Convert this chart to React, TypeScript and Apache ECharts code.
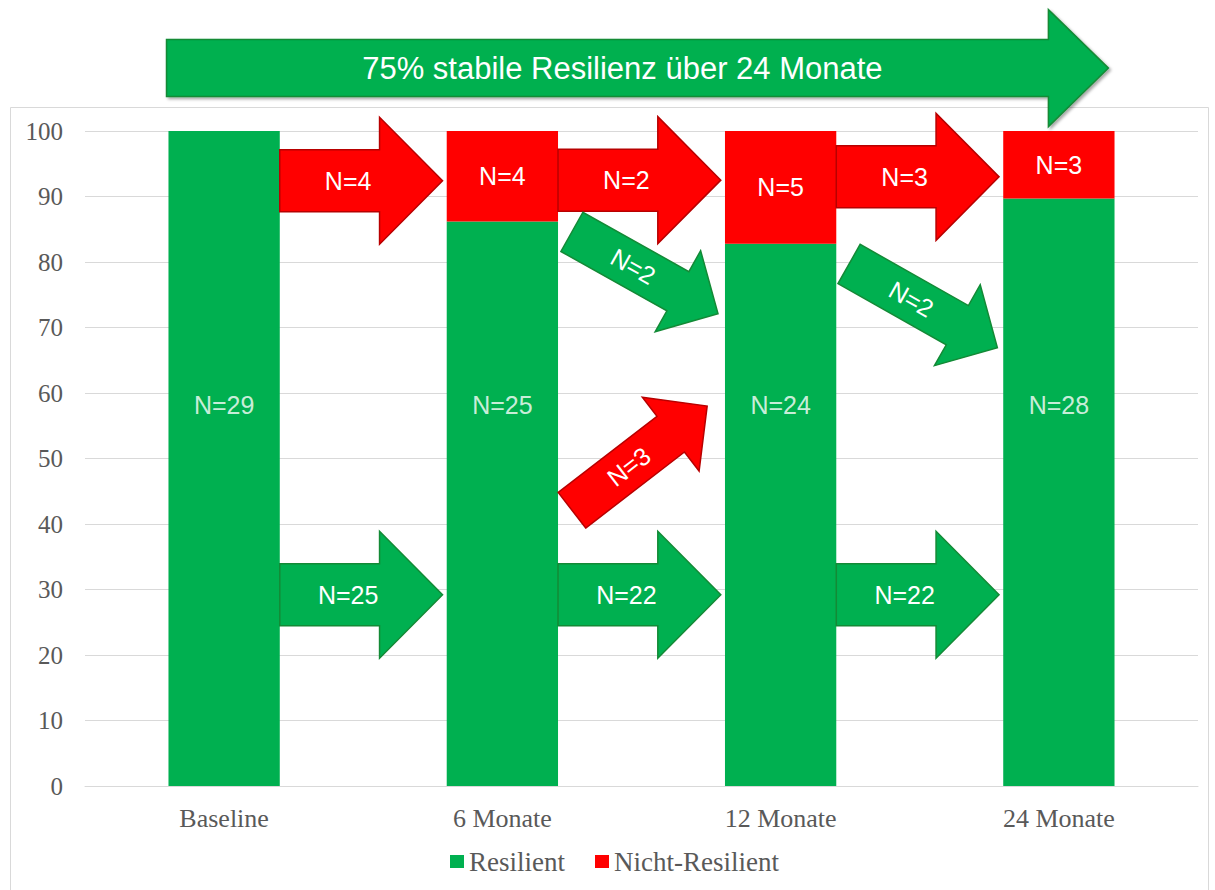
import React, { useEffect, useRef } from "react";
import * as echarts from "echarts";

const categories = ["Baseline", "6 Monate", "12 Monate", "24 Monate"];
const resilient = [100, 86.2, 82.8, 89.7];
const nichtResilient = [0, 13.8, 17.2, 10.3];
const resilientN = ["N=29", "N=25", "N=24", "N=28"];
const nichtN = ["", "N=4", "N=5", "N=3"];
const resilientLabelLevel = [58.2, 58.2, 58.2, 58.2];
const yTicks = { min: 0, max: 100, interval: 10 };

// transition arrows: category position (index fraction) and value
const flowLabels = ["N=4", "N=2", "N=3", "N=25", "N=22", "N=22", "N=2", "N=2", "N=3"];
const flowKinds = ["red", "red", "red", "green", "green", "green", "green", "green", "red"];
const flowFrom = [
  [0.2, 92.4], [1.2, 92.5], [2.2, 93.0],
  [0.2, 29.2], [1.2, 29.2], [2.2, 29.2],
  [1.25, 84.6], [2.246, 79.7], [1.25, 42.1],
];
const flowTo = [
  [0.785, 92.4], [1.785, 92.5], [2.785, 93.0],
  [0.785, 29.2], [1.785, 29.2], [2.785, 29.2],
  [1.775, 72.1], [2.779, 66.9], [1.736, 58.0],
];
const summaryText = "75% stabile Resilienz über 24 Monate";
const summaryFrom = [-0.207, 109.6];
const summaryTo = [3.178, 109.6];

const GREEN = "#00B050";
const RED = "#FF0000";
const SANS = '"Liberation Sans", Arial, sans-serif';
const SERIF = '"Liberation Serif", "Times New Roman", serif';

function arrowPoints(t: number[], p: number[], sw: number, hw: number, hl: number) {
  const dx = p[0] - t[0];
  const dy = p[1] - t[1];
  const len = Math.hypot(dx, dy);
  const ux = dx / len, uy = dy / len;
  const nx = -uy, ny = ux;
  const bx = p[0] - ux * hl, by = p[1] - uy * hl;
  return [
    [t[0] + nx * sw / 2, t[1] + ny * sw / 2],
    [bx + nx * sw / 2, by + ny * sw / 2],
    [bx + nx * hw / 2, by + ny * hw / 2],
    [p[0], p[1]],
    [bx - nx * hw / 2, by - ny * hw / 2],
    [bx - nx * sw / 2, by - ny * sw / 2],
    [t[0] - nx * sw / 2, t[1] - ny * sw / 2],
  ];
}

export default function App() {
  const ref = useRef<HTMLDivElement>(null);
  useEffect(() => {
    document.body.style.margin = "0";
    const chart = echarts.init(ref.current!, null, { renderer: "svg" });
    const option: any = {
      animation: false,
      backgroundColor: "#ffffff",
      grid: { left: 85, right: 17, top: 131, bottom: 104, containLabel: false },
      legend: {
        data: ["Resilient", "Nicht-Resilient"],
        left: 450,
        top: 848,
        padding: 0,
        icon: "rect",
        itemWidth: 14,
        itemHeight: 13,
        itemGap: 30,
        textStyle: { fontFamily: SERIF, fontSize: 27, color: "#595959" },
      },
      xAxis: {
        type: "category",
        data: categories,
        axisLine: { lineStyle: { color: "#D9D9D9", width: 1 } },
        axisTick: { show: false },
        axisLabel: { fontFamily: SERIF, fontSize: 26, color: "#595959", margin: 19 },
      },
      yAxis: {
        type: "value",
        min: yTicks.min,
        max: yTicks.max,
        interval: yTicks.interval,
        axisLine: { show: false },
        axisTick: { show: false },
        splitLine: { lineStyle: { color: "#D9D9D9", width: 1 } },
        axisLabel: { fontFamily: SERIF, fontSize: 25, color: "#595959", margin: 22 },
      },
      series: [
        {
          name: "Resilient",
          type: "bar",
          stack: "total",
          barWidth: "40%",
          itemStyle: { color: GREEN },
          data: resilient,
        },
        {
          name: "Nicht-Resilient",
          type: "bar",
          stack: "total",
          barWidth: "40%",
          itemStyle: { color: RED },
          data: nichtResilient,
          label: {
            show: true,
            position: "inside",
            color: "#ffffff",
            fontFamily: SANS,
            fontSize: 25,
            formatter: (p: any) => nichtN[p.dataIndex],
          },
        },
        {
          name: "labels",
          type: "scatter",
          silent: true,
          symbolSize: 0,
          data: resilientLabelLevel,
          z: 10,
          label: {
            show: true,
            position: "inside",
            color: "#ffffff",
            fontFamily: SANS,
            fontSize: 25,
            formatter: (p: any) => resilientN[p.dataIndex],
          },
        },
      ],
    };
    chart.setOption(option);

    const toPx = (pt: number[]) => {
      const a = chart.convertToPixel({ gridIndex: 0 }, [0, pt[1]]) as number[];
      const b = chart.convertToPixel({ gridIndex: 0 }, [1, pt[1]]) as number[];
      return [a[0] + pt[0] * (b[0] - a[0]), a[1]];
    };

    const graphics: any[] = [];
    graphics.push({
      type: "rect",
      shape: { x: 10.5, y: 107.5, width: 1198, height: 800 },
      style: { fill: "none", stroke: "#D9D9D9", lineWidth: 1 },
      z: 1,
      silent: true,
    });

    flowLabels.forEach((label, i) => {
      const t = toPx(flowFrom[i]);
      const p = toPx(flowTo[i]);
      const horizontal = Math.abs(t[1] - p[1]) < 1;
      const sw = horizontal ? 62 : 45;
      const hw = horizontal ? 127 : 93;
      const hl = horizontal ? 63 : 46;
      const isRed = flowKinds[i] === "red";
      graphics.push({
        type: "polygon",
        shape: { points: arrowPoints(t, p, sw, hw, hl) },
        style: {
          fill: isRed ? RED : GREEN,
          stroke: isRed ? "#B80000" : "#138A36",
          lineWidth: 1.5,
        },
        z: 100,
      });
      const f = 0.42;
      const ang = Math.atan2(p[1] - t[1], p[0] - t[0]);
      graphics.push({
        type: "text",
        x: t[0] + (p[0] - t[0]) * f,
        y: t[1] + (p[1] - t[1]) * f,
        rotation: -ang,
        style: {
          text: label,
          fill: "#ffffff",
          font: `25px ${SANS}`,
          align: "center",
          verticalAlign: "middle",
        },
        z: 101,
      });
    });

    const st = toPx(summaryFrom);
    const sp = toPx(summaryTo);
    graphics.push({
      type: "polygon",
      shape: { points: arrowPoints(st, sp, 57, 117, 60) },
      style: {
        fill: GREEN,
        stroke: "#138A36",
        lineWidth: 1.5,
        shadowBlur: 3,
        shadowOffsetX: 2,
        shadowOffsetY: 2,
        shadowColor: "rgba(0,0,0,0.35)",
      },
      z: 100,
    });
    graphics.push({
      type: "text",
      x: st[0] + (sp[0] - st[0]) * 0.484,
      y: st[1],
      style: {
        text: summaryText,
        fill: "#ffffff",
        font: `31px ${SANS}`,
        align: "center",
        verticalAlign: "middle",
      },
      z: 101,
    });

    chart.setOption({ graphic: graphics });
    return () => chart.dispose();
  }, []);
  return (
    <div
      ref={ref}
      style={{ position: "absolute", left: 0, top: 0, width: 1215, height: 890 }}
    />
  );
}
